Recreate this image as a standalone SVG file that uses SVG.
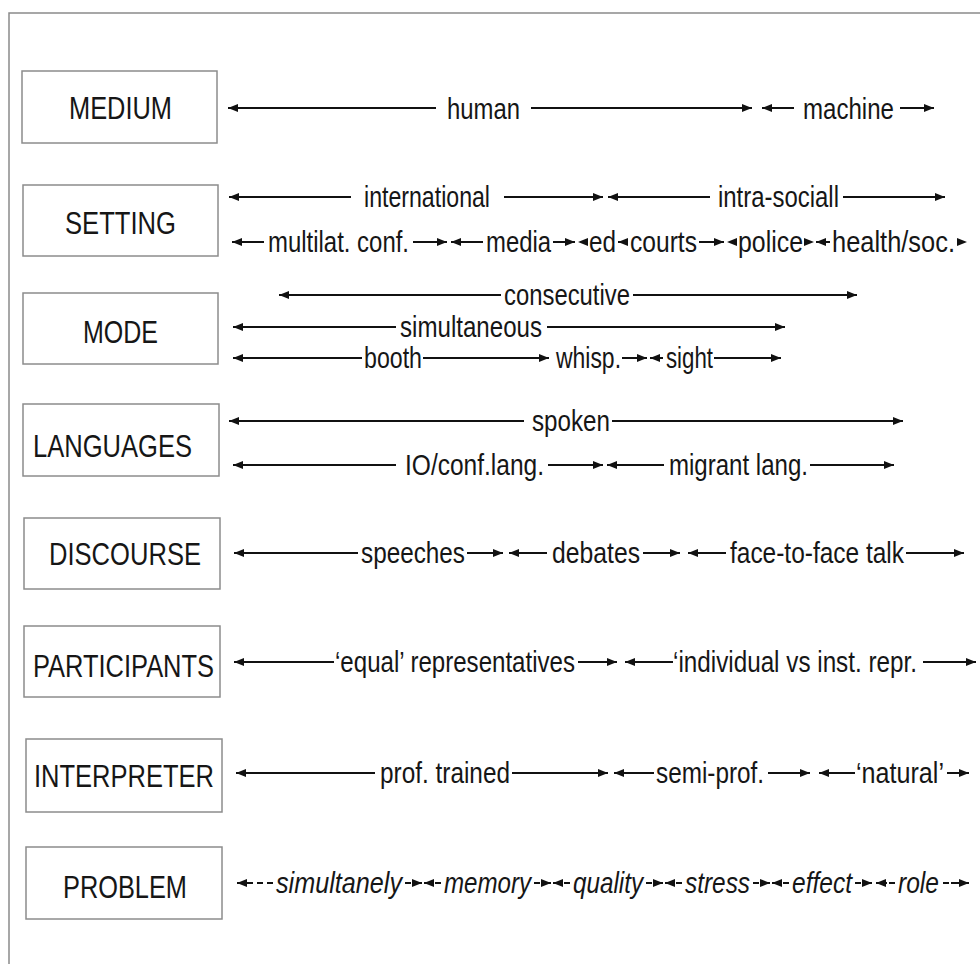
<svg xmlns="http://www.w3.org/2000/svg" width="980" height="964" viewBox="0 0 980 964">
<style>
.frame{stroke:#8a8a8a;stroke-width:1.5;fill:none}
.box{fill:#fff;stroke:#8c8c8c;stroke-width:1.5}
.bl{font-family:"Liberation Sans",Arial,sans-serif;font-size:31px;fill:#161616}
.tl{font-family:"Liberation Sans",Arial,sans-serif;font-size:29px;fill:#161616}
.it{font-style:italic}
.c{stroke:#111;stroke-width:2;fill:none}
.d{stroke-dasharray:6 2 30}
.d2{stroke-dasharray:6 4 6 4 40}
.h{fill:#111}
</style>
<defs>
<marker id="ah" markerUnits="userSpaceOnUse" markerWidth="10" markerHeight="8" refX="10" refY="4" orient="auto-start-reverse"><path d="M0,0 L10,4 L0,8 z" fill="#111"/></marker>
</defs>
<rect width="980" height="964" fill="#fff"/>
<path class="frame" d="M9,964 V13 H980"/>

<g id="medium"><rect class="box" x="22" y="71" width="195" height="72"/><text class="bl" x="69" y="119" textLength="103" lengthAdjust="spacingAndGlyphs">MEDIUM</text></g>
<g id="setting"><rect class="box" x="23" y="185" width="195" height="71"/><text class="bl" x="65" y="234" textLength="111" lengthAdjust="spacingAndGlyphs">SETTING</text></g>
<g id="mode"><rect class="box" x="23" y="293" width="195" height="71"/><text class="bl" x="83" y="343" textLength="75" lengthAdjust="spacingAndGlyphs">MODE</text></g>
<g id="languages"><rect class="box" x="23" y="404" width="196" height="72"/><text class="bl" x="33" y="457" textLength="159" lengthAdjust="spacingAndGlyphs">LANGUAGES</text></g>
<g id="discourse"><rect class="box" x="24" y="518" width="196" height="71"/><text class="bl" x="49" y="565" textLength="152" lengthAdjust="spacingAndGlyphs">DISCOURSE</text></g>
<g id="participants"><rect class="box" x="24" y="626" width="196" height="71"/><text class="bl" x="33" y="677" textLength="181" lengthAdjust="spacingAndGlyphs">PARTICIPANTS</text></g>
<g id="interpreter"><rect class="box" x="26" y="739" width="196" height="73"/><text class="bl" x="34" y="787" textLength="180" lengthAdjust="spacingAndGlyphs">INTERPRETER</text></g>
<g id="problem"><rect class="box" x="26" y="847" width="196" height="72"/><text class="bl" x="63" y="898" textLength="124" lengthAdjust="spacingAndGlyphs">PROBLEM</text></g>

<g id="medium-scale">
<text class="tl" x="447" y="119" textLength="73" lengthAdjust="spacingAndGlyphs">human</text>
<text class="tl" x="803" y="119" textLength="91" lengthAdjust="spacingAndGlyphs">machine</text>
</g>
<g id="setting-scale">
<text class="tl" x="364" y="207" textLength="126" lengthAdjust="spacingAndGlyphs">international</text>
<text class="tl" x="718" y="207" textLength="121" lengthAdjust="spacingAndGlyphs">intra-sociall</text>
<text class="tl" x="268" y="252" textLength="141" lengthAdjust="spacingAndGlyphs">multilat. conf.</text>
<text class="tl" x="486" y="252" textLength="65" lengthAdjust="spacingAndGlyphs">media</text>
<text class="tl" x="589" y="252" textLength="27" lengthAdjust="spacingAndGlyphs">ed</text>
<text class="tl" x="630" y="252" textLength="67" lengthAdjust="spacingAndGlyphs">courts</text>
<text class="tl" x="738" y="252" textLength="65" lengthAdjust="spacingAndGlyphs">police</text>
<text class="tl" x="832" y="252" textLength="123" lengthAdjust="spacingAndGlyphs">health/soc.</text>
</g>
<g id="mode-scale">
<text class="tl" x="504" y="305" textLength="126" lengthAdjust="spacingAndGlyphs">consecutive</text>
<text class="tl" x="400" y="337" textLength="142" lengthAdjust="spacingAndGlyphs">simultaneous</text>
<text class="tl" x="364" y="368" textLength="58" lengthAdjust="spacingAndGlyphs">booth</text>
<text class="tl" x="556" y="368" textLength="65" lengthAdjust="spacingAndGlyphs">whisp.</text>
<text class="tl" x="666" y="368" textLength="47" lengthAdjust="spacingAndGlyphs">sight</text>
</g>
<g id="languages-scale">
<text class="tl" x="532" y="431" textLength="78" lengthAdjust="spacingAndGlyphs">spoken</text>
<text class="tl" x="405" y="475" textLength="139" lengthAdjust="spacingAndGlyphs">IO/conf.lang.</text>
<text class="tl" x="669" y="475" textLength="139" lengthAdjust="spacingAndGlyphs">migrant lang.</text>
</g>
<g id="discourse-scale">
<text class="tl" x="361" y="563" textLength="104" lengthAdjust="spacingAndGlyphs">speeches</text>
<text class="tl" x="552" y="563" textLength="88" lengthAdjust="spacingAndGlyphs">debates</text>
<text class="tl" x="730" y="563" textLength="174" lengthAdjust="spacingAndGlyphs">face-to-face talk</text>
</g>
<g id="participants-scale">
<text class="tl" x="335" y="672" textLength="240" lengthAdjust="spacingAndGlyphs">‘equal’ representatives</text>
<text class="tl" x="673" y="672" textLength="244" lengthAdjust="spacingAndGlyphs">‘individual vs inst. repr.</text>
</g>
<g id="interpreter-scale">
<text class="tl" x="380" y="783" textLength="130" lengthAdjust="spacingAndGlyphs">prof. trained</text>
<text class="tl" x="656" y="783" textLength="108" lengthAdjust="spacingAndGlyphs">semi-prof.</text>
<text class="tl" x="856" y="783" textLength="88" lengthAdjust="spacingAndGlyphs">‘natural’</text>
</g>
<g id="problem-scale">
<text class="tl it" x="276" y="893" textLength="126" lengthAdjust="spacingAndGlyphs">simultanely</text>
<text class="tl it" x="444" y="893" textLength="87" lengthAdjust="spacingAndGlyphs">memory</text>
<text class="tl it" x="573" y="893" textLength="70" lengthAdjust="spacingAndGlyphs">quality</text>
<text class="tl it" x="685" y="893" textLength="65" lengthAdjust="spacingAndGlyphs">stress</text>
<text class="tl it" x="792" y="893" textLength="60" lengthAdjust="spacingAndGlyphs">effect</text>
<text class="tl it" x="898" y="893" textLength="41" lengthAdjust="spacingAndGlyphs">role</text>
</g>

<g id="connectors">
<!-- MEDIUM -->
<line class="c" x1="228" y1="108" x2="436" y2="108" marker-start="url(#ah)"/>
<line class="c" x1="531" y1="108" x2="752" y2="108" marker-end="url(#ah)"/>
<line class="c" x1="762" y1="108" x2="794" y2="108" marker-start="url(#ah)"/>
<line class="c" x1="900" y1="108" x2="934" y2="108" marker-end="url(#ah)"/>
<!-- SETTING 1 -->
<line class="c" x1="229" y1="197" x2="351" y2="197" marker-start="url(#ah)"/>
<line class="c" x1="504" y1="197" x2="603" y2="197" marker-end="url(#ah)"/>
<line class="c" x1="608" y1="197" x2="710" y2="197" marker-start="url(#ah)"/>
<line class="c" x1="843" y1="197" x2="945" y2="197" marker-end="url(#ah)"/>
<!-- SETTING 2 -->
<line class="c" x1="232" y1="242" x2="264" y2="242" marker-start="url(#ah)"/>
<line class="c" x1="413" y1="242" x2="447" y2="242" marker-end="url(#ah)"/>
<line class="c" x1="451" y1="242" x2="483" y2="242" marker-start="url(#ah)"/>
<line class="c" x1="553" y1="242" x2="575" y2="242" marker-end="url(#ah)"/>
<polygon class="h" points="588,238 578,242 588,246"/>
<line class="c" x1="618" y1="242" x2="628" y2="242" marker-start="url(#ah)"/>
<line class="c" x1="699" y1="242" x2="724" y2="242" marker-end="url(#ah)"/>
<polygon class="h" points="737,238 727,242 737,246"/>
<polygon class="h" points="804,238 814,242 804,246"/>
<line class="c" x1="816" y1="242" x2="830" y2="242" marker-start="url(#ah)"/>
<polygon class="h" points="957,238 967,242 957,246"/>
<!-- MODE -->
<line class="c" x1="279" y1="295" x2="501" y2="295" marker-start="url(#ah)"/>
<line class="c" x1="633" y1="295" x2="857" y2="295" marker-end="url(#ah)"/>
<line class="c" x1="233" y1="327" x2="396" y2="327" marker-start="url(#ah)"/>
<line class="c" x1="547" y1="327" x2="785" y2="327" marker-end="url(#ah)"/>
<line class="c" x1="233" y1="358" x2="362" y2="358" marker-start="url(#ah)"/>
<line class="c" x1="423" y1="358" x2="549" y2="358" marker-end="url(#ah)"/>
<line class="c" x1="622" y1="358" x2="647" y2="358" marker-end="url(#ah)"/>
<line class="c" x1="650" y1="358" x2="663" y2="358" marker-start="url(#ah)"/>
<line class="c" x1="714" y1="358" x2="781" y2="358" marker-end="url(#ah)"/>
<!-- LANGUAGES -->
<line class="c" x1="229" y1="421" x2="524" y2="421" marker-start="url(#ah)"/>
<line class="c" x1="612" y1="421" x2="903" y2="421" marker-end="url(#ah)"/>
<line class="c" x1="233" y1="465" x2="396" y2="465" marker-start="url(#ah)"/>
<line class="c" x1="548" y1="465" x2="603" y2="465" marker-end="url(#ah)"/>
<line class="c" x1="607" y1="465" x2="664" y2="465" marker-start="url(#ah)"/>
<line class="c" x1="810" y1="465" x2="894" y2="465" marker-end="url(#ah)"/>
<!-- DISCOURSE -->
<line class="c" x1="234" y1="553" x2="358" y2="553" marker-start="url(#ah)"/>
<line class="c" x1="467" y1="553" x2="503" y2="553" marker-end="url(#ah)"/>
<line class="c" x1="509" y1="553" x2="547" y2="553" marker-start="url(#ah)"/>
<line class="c" x1="643" y1="553" x2="680" y2="553" marker-end="url(#ah)"/>
<line class="c" x1="688" y1="553" x2="726" y2="553" marker-start="url(#ah)"/>
<line class="c" x1="906" y1="553" x2="964" y2="553" marker-end="url(#ah)"/>
<!-- PARTICIPANTS -->
<line class="c" x1="234" y1="662" x2="334" y2="662" marker-start="url(#ah)"/>
<line class="c" x1="578" y1="662" x2="617" y2="662" marker-end="url(#ah)"/>
<line class="c" x1="625" y1="662" x2="673" y2="662" marker-start="url(#ah)"/>
<line class="c" x1="923" y1="662" x2="976" y2="662" marker-end="url(#ah)"/>
<!-- INTERPRETER -->
<line class="c" x1="236" y1="773" x2="375" y2="773" marker-start="url(#ah)"/>
<line class="c" x1="512" y1="773" x2="608" y2="773" marker-end="url(#ah)"/>
<line class="c" x1="614" y1="773" x2="654" y2="773" marker-start="url(#ah)"/>
<line class="c" x1="768" y1="773" x2="810" y2="773" marker-end="url(#ah)"/>
<line class="c" x1="819" y1="773" x2="855" y2="773" marker-start="url(#ah)"/>
<line class="c" x1="947" y1="773" x2="969" y2="773" marker-end="url(#ah)"/>
<!-- PROBLEM (dashed) -->
<line class="c d2" x1="273" y1="883" x2="237" y2="883" marker-end="url(#ah)"/>
<line class="c d" x1="405" y1="883" x2="422" y2="883" marker-end="url(#ah)"/>
<line class="c d" x1="441" y1="883" x2="424" y2="883" marker-end="url(#ah)"/>
<line class="c d" x1="534" y1="883" x2="551" y2="883" marker-end="url(#ah)"/>
<line class="c d" x1="570" y1="883" x2="553" y2="883" marker-end="url(#ah)"/>
<line class="c d" x1="646" y1="883" x2="663" y2="883" marker-end="url(#ah)"/>
<line class="c d" x1="682" y1="883" x2="665" y2="883" marker-end="url(#ah)"/>
<line class="c d" x1="753" y1="883" x2="770" y2="883" marker-end="url(#ah)"/>
<line class="c d" x1="789" y1="883" x2="772" y2="883" marker-end="url(#ah)"/>
<line class="c d" x1="855" y1="883" x2="872" y2="883" marker-end="url(#ah)"/>
<line class="c d" x1="895" y1="883" x2="876" y2="883" marker-end="url(#ah)"/>
<line class="c d" x1="943" y1="883" x2="969" y2="883" marker-end="url(#ah)"/>
</g>
</svg>
